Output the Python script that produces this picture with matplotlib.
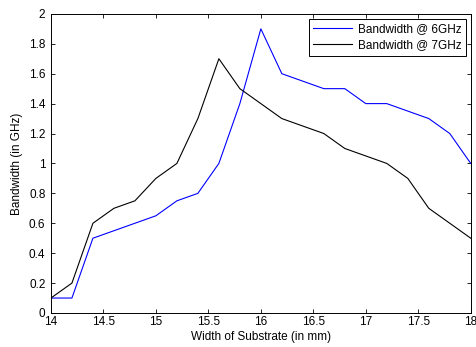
import numpy as np
import matplotlib
matplotlib.use('Agg')
import matplotlib.pyplot as plt

# width of substrate (mm)
width = [14.0, 14.2, 14.4, 14.6, 14.8, 15.0, 15.2, 15.4, 15.6, 15.8, 16.0,
         16.2, 16.4, 16.6, 16.8, 17.0, 17.2, 17.4, 17.6, 17.8, 18.0]
# bandwidth (GHz)
bw_6ghz = [0.1, 0.1, 0.5, 0.55, 0.6, 0.65, 0.75, 0.8, 1.0, 1.4, 1.9,
           1.6, 1.55, 1.5, 1.5, 1.4, 1.4, 1.35, 1.3, 1.2, 1.0]
bw_7ghz = [0.1, 0.2, 0.6, 0.7, 0.75, 0.9, 1.0, 1.3, 1.7, 1.5, 1.4,
           1.3, 1.25, 1.2, 1.1, 1.05, 1.0, 0.9, 0.7, 0.6, 0.5]

xticks = [14, 14.5, 15, 15.5, 16, 16.5, 17, 17.5, 18]
yticks = [0, 0.2, 0.4, 0.6, 0.8, 1, 1.2, 1.4, 1.6, 1.8, 2]

plt.rcParams['font.family'] = 'Liberation Sans'
plt.rcParams['font.size'] = 8.5

fig = plt.figure(figsize=(4.76, 3.47), dpi=100)
ax = fig.add_axes([0.107, 0.098, 0.882, 0.862])

ax.plot(width, bw_6ghz, color='#0000ff', lw=0.8, label='Bandwidth @ 6GHz')
ax.plot(width, bw_7ghz, color='black', lw=0.8, label='Bandwidth @ 7GHz')

ax.set_xlim(14, 18)
ax.set_ylim(0, 2)
ax.set_xticks(xticks)
ax.set_xticklabels(['%g' % t for t in xticks])
ax.set_yticks(yticks)
ax.set_yticklabels(['%g' % t for t in yticks])
ax.tick_params(direction='in', top=True, right=True, length=3, width=0.6, pad=2)
ax.tick_params(axis='y', pad=4)
for s in ax.spines.values():
    s.set_linewidth(0.7)

ax.set_xlabel('Width of Substrate (in mm)', labelpad=2)
ax.set_ylabel('Bandwidth (in GHz)', labelpad=4)

# legend box, matlab style
leg = ax.legend(loc='upper right', fancybox=False, edgecolor='black',
                framealpha=1, borderpad=0.4, handlelength=3.3,
                labelspacing=0.3, borderaxespad=0.4, handletextpad=0.45)
leg.get_frame().set_linewidth(0.7)

fig.savefig('out.png', dpi=100)
